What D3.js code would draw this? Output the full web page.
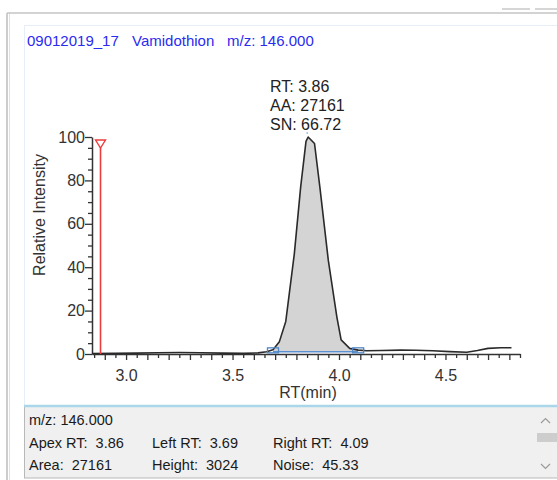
<!DOCTYPE html>
<meta charset="utf-8">
<script src="https://cdn.jsdelivr.net/npm/d3@7"></script>
<style>
  body { margin: 0; background: #fff; }
  svg { display: block; font-family: "Liberation Sans", Arial, sans-serif; }
</style>
<div id="chart"></div>
<script>

// trace data (RT in min, relative intensity in %)
var rtValues = [2.84, 2.95, 3.05, 3.15, 3.25, 3.35, 3.45, 3.55, 3.62, 3.66, 3.69, 3.72, 3.75, 3.79, 3.82, 3.845, 3.855, 3.885, 3.91, 3.95, 3.99, 4.01, 4.05, 4.09, 4.13, 4.2, 4.29, 4.36, 4.44, 4.52, 4.6, 4.65, 4.7, 4.76, 4.81];
var intensityValues = [0.2, 0.3, 0.4, 0.6, 0.7, 0.6, 0.4, 0.3, 0.5, 1.0, 2.0, 5.7, 15, 46, 77, 98, 100, 97, 77, 43, 17, 6.5, 2.6, 1.8, 1.5, 1.6, 1.8, 1.7, 1.5, 1.1, 0.8, 1.6, 2.6, 2.9, 2.9];

var xTickLabels = [3.0, 3.5, 4.0, 4.5];
var yTickLabels = [0, 20, 40, 60, 80, 100];

// peak integration
var leftRT = 3.69, rightRT = 4.09, apexRT = 3.86, baselineLevel = 1.0;
var markerRT = 2.88;

var titleParts = ["09012019_17", "Vamidothion", "m/z: 146.000"];
var peakLabels = ["RT: 3.86", "AA: 27161", "SN: 66.72"];
var infoRows = [
  ["m/z: 146.000"],
  ["Apex RT:  3.86", "Left RT:  3.69", "Right RT:  4.09"],
  ["Area:  27161", "Height:  3024", "Noise:  45.33"]
];

var W = 557, H = 480;

var svg = d3.select("#chart")
  .append("svg")
    .attr("width", W)
    .attr("height", H)

// window frame
svg.append("line").attr("x1", 7).attr("x2", 7).attr("y1", 13).attr("y2", H).style("stroke", "#bdbdbd").style("stroke-width", 1.5)
svg.append("line").attr("x1", 9.5).attr("x2", 9.5).attr("y1", 13).attr("y2", H).style("stroke", "#e0e0e0")
svg.append("line").attr("x1", 7).attr("x2", W).attr("y1", 13).attr("y2", 13).style("stroke", "#c4c4c4").style("stroke-width", 1.5)
svg.append("line").attr("x1", 502).attr("x2", 530).attr("y1", 9).attr("y2", 9).style("stroke", "#c8c8c8").style("stroke-width", 1.5)
svg.append("line").attr("x1", 535).attr("x2", W).attr("y1", 9).attr("y2", 9).style("stroke", "#c8c8c8").style("stroke-width", 1.5)

// inner panel
svg.append("rect")
  .attr("x", 24.5).attr("y", 25.5)
  .attr("width", W - 24).attr("height", 380)
  .style("fill", "#fff")
  .style("stroke", "#e6eef8")

// title
var titleX = [27, 132, 227]
svg.selectAll(".title")
  .data(titleParts)
  .enter()
  .append("text")
    .attr("x", function(d, i) { return titleX[i] })
    .attr("y", 46)
    .style("font-size", "15px")
    .style("fill", "#2b2bf0")
    .text(function(d) { return d })

// scales
var x = d3.scaleLinear()
  .domain([2.84, 4.85])
  .range([92, 520])
var y = d3.scaleLinear()
  .domain([0, 100])
  .range([354, 137])

var trace = rtValues.map(function(d, i) { return {rt: d, v: intensityValues[i]} })

// peak fill
var peakPts = trace.filter(function(d) { return d.rt >= leftRT && d.rt <= rightRT })
svg.append("path")
  .datum(peakPts)
  .attr("d", d3.area()
    .x(function(d) { return x(d.rt) })
    .y0(y(baselineLevel))
    .y1(function(d) { return y(d.v) }))
  .style("fill", "#d4d4d4")

// x axis: minor ticks then labelled ticks
var minorX = d3.range(2.85, 4.851, 0.05).map(function(d) { return +d.toFixed(2) })
svg.append("g")
  .attr("transform", "translate(0,354)")
  .call(d3.axisBottom(x).tickValues(minorX).tickSize(5).tickFormat("").tickSizeOuter(0))
  .call(function(g) {
    g.select(".domain").style("stroke", "#333").style("stroke-width", 1.5)
    g.selectAll(".tick line").style("stroke", "#333").style("stroke-width", 1.3)
      .attr("y2", function(d) { return Math.round(d * 100) % 10 === 0 ? 6 : 4 })
  })
svg.append("g")
  .attr("transform", "translate(0,354)")
  .call(d3.axisBottom(x).tickValues(xTickLabels).tickSize(0).tickPadding(16).tickFormat(d3.format(".1f")))
  .call(function(g) {
    g.select(".domain").remove()
    g.selectAll("text").style("font-size", "16px").style("fill", "#333").attr("font-family", null)
  })

// y axis
var minorY = d3.range(0, 101, 5)
svg.append("g")
  .attr("transform", "translate(92,0)")
  .call(d3.axisLeft(y).tickValues(minorY).tickFormat("").tickSizeOuter(0))
  .call(function(g) {
    g.select(".domain").style("stroke", "#333").style("stroke-width", 1.5)
    g.selectAll(".tick line").style("stroke", "#333").style("stroke-width", 1.3)
      .attr("x2", function(d) { return d % 20 === 0 ? -7 : -4 })
  })
svg.append("g")
  .attr("transform", "translate(92,0)")
  .call(d3.axisLeft(y).tickValues(yTickLabels).tickSize(0).tickPadding(7))
  .call(function(g) {
    g.select(".domain").remove()
    g.selectAll("text").style("font-size", "16px").style("fill", "#333").attr("font-family", null)
  })

// axis labels
svg.append("text")
  .attr("text-anchor", "middle")
  .attr("x", 308)
  .attr("y", 398)
  .style("font-size", "16px")
  .style("fill", "#333")
  .text("RT(min)")
svg.append("text")
  .attr("text-anchor", "middle")
  .attr("transform", "translate(45,215) rotate(-90)")
  .style("font-size", "16px")
  .style("fill", "#333")
  .text("Relative Intensity")

// trace line
svg.append("path")
  .datum(trace)
  .attr("d", d3.line()
    .x(function(d) { return x(d.rt) })
    .y(function(d) { return y(d.v) }))
  .style("fill", "none")
  .style("stroke", "#2a2a2a")
  .style("stroke-width", 1.6)
  .style("stroke-linejoin", "round")

// integration baseline and boundary boxes
svg.append("line")
  .attr("x1", x(leftRT)).attr("x2", x(rightRT))
  .attr("y1", y(baselineLevel)).attr("y2", y(baselineLevel))
  .style("stroke", "#5b8fd0").style("stroke-width", 1.5)
svg.selectAll(".bound")
  .data([leftRT, rightRT])
  .enter()
  .append("rect")
    .attr("x", function(d) { return x(d) - 5.5 })
    .attr("y", y(baselineLevel) - 4)
    .attr("width", 11)
    .attr("height", 5)
    .style("fill", "none")
    .style("stroke", "#4f86c6")
    .style("stroke-width", 1.3)

// red marker
svg.append("line")
  .attr("x1", x(markerRT)).attr("x2", x(markerRT))
  .attr("y1", y(0)).attr("y2", y(97))
  .style("stroke", "#ee3b3b").style("stroke-width", 1.6)
var mx = x(markerRT), my = y(100) + 3
svg.append("path")
  .attr("d", "M" + (mx - 5) + "," + my + "L" + (mx + 5) + "," + my + "L" + mx + "," + (my + 8) + "Z")
  .style("fill", "#fff")
  .style("stroke", "#ee3b3b")
  .style("stroke-width", 1.4)

// peak annotation
svg.selectAll(".peaklab")
  .data(peakLabels)
  .enter()
  .append("text")
    .attr("x", 270)
    .attr("y", function(d, i) { return 92 + i * 19 })
    .style("font-size", "16px")
    .style("fill", "#222")
    .text(function(d) { return d })
svg.append("circle")
  .attr("cx", x(apexRT) - 2).attr("cy", 133).attr("r", 0.8)
  .style("fill", "#6a9ad6")

// info panel
svg.append("rect")
  .attr("x", 24.5).attr("y", 406)
  .attr("width", W - 24).attr("height", 72)
  .style("fill", "#f0f0f0")
  .style("stroke", "#b8b8b8")
svg.append("line")
  .attr("x1", 24).attr("x2", W)
  .attr("y1", 406).attr("y2", 406)
  .style("stroke", "#a9d6e8").style("stroke-width", 2.5)

var colX = [29, 152, 273], rowY = [425, 448, 470]
infoRows.forEach(function(row, r) {
  svg.selectAll(".info" + r)
    .data(row)
    .enter()
    .append("text")
      .attr("x", function(d, i) { return colX[i] })
      .attr("y", rowY[r])
      .style("font-size", "14.5px")
      .style("fill", "#1a1a1a")
      .style("white-space", "pre")
      .text(function(d) { return d })
})

// scrollbar
svg.append("path")
  .attr("d", "M541,423L545.5,418.5L550,423")
  .style("fill", "none").style("stroke", "#9a9a9a").style("stroke-width", 1.2)
svg.append("rect")
  .attr("x", 537).attr("y", 433).attr("width", 20).attr("height", 9)
  .style("fill", "#cdcdcd")
svg.append("path")
  .attr("d", "M541,464L545.5,468.5L550,464")
  .style("fill", "none").style("stroke", "#9a9a9a").style("stroke-width", 1.2)

</script>
